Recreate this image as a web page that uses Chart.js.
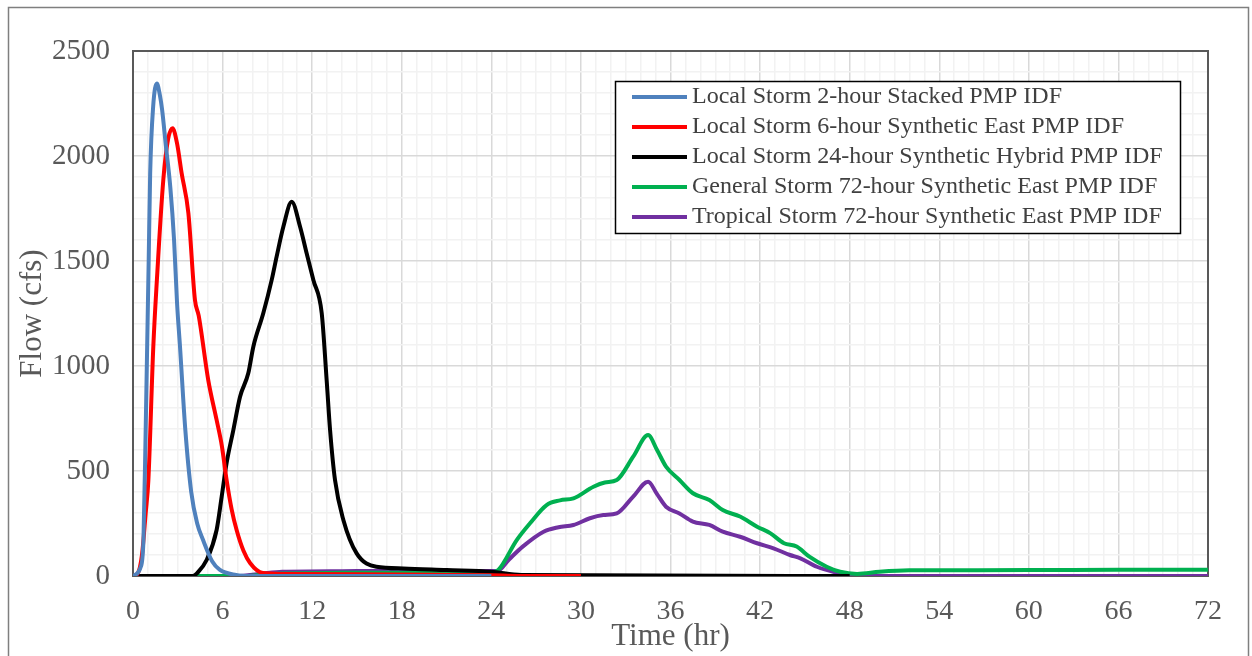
<!DOCTYPE html>
<html>
<head>
<meta charset="utf-8">
<title>PMP IDF hydrographs</title>
<script src="https://cdn.jsdelivr.net/npm/chart.js@4"></script>
<style>
  body { margin: 0; background: #fff; }
  #wrap { width: 1252px; height: 656px; position: relative; }
</style>
</head>
<body>
<div id="wrap"><canvas id="myChart"></canvas></div>
<script>
// series names (legend order)
var seriesNames = [
  "Local Storm 2-hour Stacked PMP IDF",
  "Local Storm 6-hour Synthetic East PMP IDF",
  "Local Storm 24-hour Synthetic Hybrid PMP IDF",
  "General Storm 72-hour Synthetic East PMP IDF",
  "Tropical Storm 72-hour Synthetic East PMP IDF"
];
var seriesColors = ["#4F81BD", "#FF0000", "#000000", "#00B050", "#7030A0"];

// time (hr) and flow (cfs)
var local2Time = [0, 0.5, 0.7, 0.85, 0.95, 1.05, 1.15, 1.35, 1.6, 1.8, 1.95, 2.2, 2.5, 2.75, 2.95, 3.15, 3.5, 3.9, 4.3, 4.7, 5.3, 5.8, 6.9, 8, 24];
var local2Flow = [0, 40, 171, 700, 1100, 1500, 1917, 2235, 2345, 2290, 2220, 2050, 1850, 1600, 1300, 1090, 700, 400, 250, 170, 70, 30, 5, 0, 0];

var local6Time = [0, 0.3, 0.6, 0.85, 1.03, 1.36, 1.6, 2.03, 2.35, 2.65, 2.95, 3.26, 3.71, 4.15, 4.4, 5.04, 5.6, 5.95, 6.27, 6.6, 6.94, 7.4, 7.84, 8.7, 10, 20, 24, 27, 30];
var local6Flow = [0, 10, 100, 300, 457, 1092, 1410, 1886, 2080, 2132, 2060, 1917, 1727, 1314, 1240, 933, 743, 620, 457, 320, 219, 120, 62, 14, 10, 6, 3, 0, 0];

var local24Time = [0, 4.0, 4.3, 4.93, 5.6, 5.94, 6.27, 6.72, 7.17, 7.72, 8.06, 8.73, 9.29, 9.62, 10.07, 10.63, 11.19, 11.63, 12.08, 12.64, 12.97, 13.2, 13.53, 14.09, 14.98, 16.3, 18.1, 21, 24, 26, 48];
var local24Flow = [0, 0, 14, 76, 219, 378, 538, 695, 854, 965, 1092, 1252, 1410, 1521, 1663, 1782, 1663, 1537, 1410, 1251, 933, 695, 457, 267, 108, 44, 36, 28, 20, 5, 0];

var generalTime = [0, 7.5, 9, 10, 14, 20, 24, 24.47, 25.7, 26.59, 27.7, 28.6, 29.5, 30.84, 31.6, 32.4, 33.5, 34.5, 35.1, 35.7, 36.6, 37.5, 38.6, 39.5, 40.66, 41.8, 42.7, 43.6, 44.45, 45.3, 46.46, 47.36, 48.5, 50, 52, 60, 66, 72];
var generalFlow = [0, 0, 8, 12, 15, 16, 18, 29, 171, 251, 338, 360, 370, 425, 445, 457, 568, 671, 600, 521, 457, 394, 362, 314, 283, 235, 203, 156, 140, 92, 44, 20, 10, 20, 27, 28, 30, 30];

var tropicalTime = [0, 7, 8.5, 10, 14, 18, 22, 24.4, 25.2, 26.1, 27.5, 28.5, 29.5, 30.6, 31.5, 32.4, 33.5, 34.5, 35.1, 35.7, 36.6, 37.5, 38.6, 39.5, 40.66, 41.8, 42.9, 44.0, 44.7, 45.8, 46.9, 48, 50, 72];
var tropicalFlow = [0, 0, 10, 20, 23, 24, 24, 24, 80, 140, 211, 232, 243, 275, 290, 298, 378, 449, 390, 330, 298, 259, 243, 211, 187, 156, 132, 100, 84, 44, 20, 5, 0, 0];

var seriesTimes = [local2Time, local6Time, local24Time, generalTime, tropicalTime];
var seriesFlows = [local2Flow, local6Flow, local24Flow, generalFlow, tropicalFlow];

var xTickStep = 6;
var yTickStep = 500;

var fontFamily = "'Liberation Serif', 'Times New Roman', serif";

function toPoints(xs, ys) {
  var pts = [];
  for (var i = 0; i < xs.length; i++) pts.push({x: xs[i], y: ys[i]});
  return pts;
}

var chartDatasets = [];
for (var i = 0; i < seriesNames.length; i++) {
  chartDatasets.push({
    label: seriesNames[i],
    data: toPoints(seriesTimes[i], seriesFlows[i]),
    borderColor: seriesColors[i],
    backgroundColor: seriesColors[i],
    borderWidth: 4,
    pointRadius: 0,
    showLine: true,
    cubicInterpolationMode: 'monotone'
  });
}

// outer frame + plot border
var framePlugin = {
  id: 'frame',
  beforeDraw: function(chart) {
    var c = chart.ctx;
    c.save();
    c.fillStyle = '#fff';
    c.fillRect(0, 0, chart.width, chart.height);
    c.strokeStyle = '#7f7f7f';
    c.lineWidth = 1.5;
    c.strokeRect(8.5, 7.5, 1240, 660);
    c.restore();
  },
  beforeDatasetsDraw: function(chart) {
    var a = chart.chartArea;
    var c = chart.ctx;
    c.save();
    c.strokeStyle = '#595959';
    c.lineWidth = 2;
    c.strokeRect(a.left, a.top, a.right - a.left, a.bottom - a.top);
    c.restore();
  }
};

// boxed legend inside the plot, top right
var legendPlugin = {
  id: 'boxLegend',
  afterDatasetsDraw: function(chart) {
    var c = chart.ctx;
    var ds = chart.data.datasets;
    c.save();
    c.fillStyle = '#fff';
    c.fillRect(615, 81, 565, 152);
    c.strokeStyle = '#000';
    c.lineWidth = 1.5;
    c.strokeRect(615.5, 81.5, 565, 152);
    c.font = '24px ' + fontFamily;
    c.textBaseline = 'middle';
    for (var i = 0; i < ds.length; i++) {
      var y = 97 + i * 30;
      c.strokeStyle = ds[i].borderColor;
      c.lineWidth = 4;
      c.beginPath();
      c.moveTo(632, y);
      c.lineTo(687, y);
      c.stroke();
      c.fillStyle = '#404040';
      c.fillText(ds[i].label, 692, y);
    }
    c.restore();
  }
};

var ctx = document.getElementById("myChart").getContext("2d");
var myChart = new Chart(ctx, {
  type: 'scatter',
  data: { datasets: chartDatasets },
  plugins: [framePlugin, legendPlugin],
  options: {
    responsive: true,
    maintainAspectRatio: false,
    animation: false,
    layout: { padding: { left: 12, top: 51, right: 44, bottom: 0 } },
    plugins: { legend: { display: false }, tooltip: { enabled: false } },
    scales: {
      x: {
        type: 'linear',
        min: 0,
        max: 72,
        afterFit: function(scale) { scale.height = 80; },
        border: { display: false },
        grid: {
          drawTicks: false,
          lineWidth: 1.5,
          color: function(c) { return c.tick && c.tick.value % xTickStep === 0 ? '#d9d9d9' : '#f2f2f2'; }
        },
        ticks: {
          stepSize: 1,
          autoSkip: false,
          maxRotation: 0,
          padding: 19,
          color: '#595959',
          font: { family: fontFamily, size: 28 },
          callback: function(v) { return v % xTickStep === 0 ? String(v) : ''; }
        },
        title: {
          display: true,
          text: 'Time (hr)',
          color: '#595959',
          font: { family: fontFamily, size: 31 },
          padding: { top: 0, bottom: 1 }
        }
      },
      y: {
        min: 0,
        max: 2500,
        afterFit: function(scale) { scale.width = 121; },
        border: { display: false },
        grid: {
          drawTicks: false,
          lineWidth: 1.5,
          color: function(c) { return c.tick && c.tick.value % yTickStep === 0 ? '#d9d9d9' : '#f2f2f2'; }
        },
        ticks: {
          stepSize: 100,
          autoSkip: false,
          padding: 23,
          color: '#595959',
          font: { family: fontFamily, size: 29 },
          callback: function(v) { return v % yTickStep === 0 ? String(v) : ''; }
        },
        title: {
          display: true,
          text: 'Flow (cfs)',
          color: '#595959',
          font: { family: fontFamily, size: 31 },
          padding: { top: 2, bottom: 4 }
        }
      }
    }
  }
});
</script>
</body>
</html>
